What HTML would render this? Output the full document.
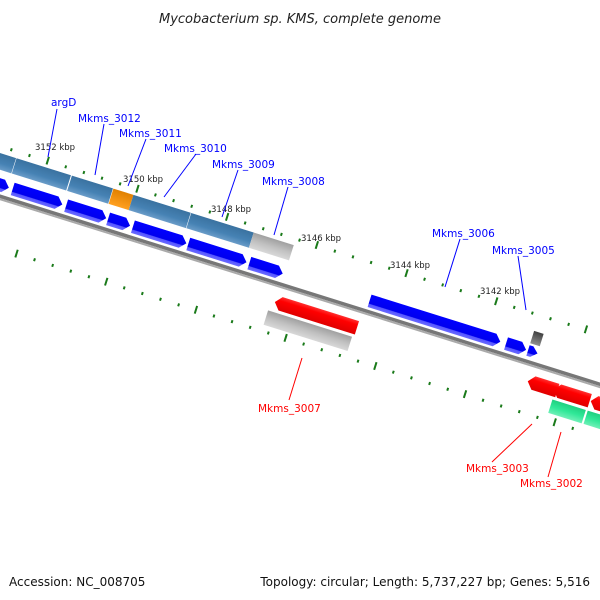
<!DOCTYPE html>
<html><head><meta charset="utf-8"><style>
body{margin:0;background:#fff}
svg{display:block}
text{font-family:"DejaVu Sans","Liberation Sans",sans-serif}
</style></head><body>
<svg width="600" height="600" viewBox="0 0 600 600" xmlns="http://www.w3.org/2000/svg">
<defs>
<linearGradient id="gb" x1="0" y1="0" x2="0" y2="1"><stop offset="0" stop-color="#0000ff"/><stop offset="0.7" stop-color="#0000ee"/><stop offset="0.75" stop-color="#5555ff"/><stop offset="1" stop-color="#6a6aff"/></linearGradient>
<linearGradient id="gs" x1="0" y1="0" x2="0" y2="1"><stop offset="0" stop-color="#3a72a0"/><stop offset="0.6" stop-color="#4682b4"/><stop offset="1" stop-color="#6a9cc8"/></linearGradient>
<linearGradient id="go" x1="0" y1="0" x2="0" y2="1"><stop offset="0" stop-color="#e08000"/><stop offset="1" stop-color="#ffa020"/></linearGradient>
<linearGradient id="gg" x1="0" y1="0" x2="0" y2="1"><stop offset="0" stop-color="#a0a0a0"/><stop offset="0.5" stop-color="#c0c0c0"/><stop offset="1" stop-color="#d8d8d8"/></linearGradient>
<linearGradient id="gr" x1="0" y1="0" x2="0" y2="1"><stop offset="0" stop-color="#ff3030"/><stop offset="0.3" stop-color="#ff0000"/><stop offset="1" stop-color="#e00000"/></linearGradient>
<linearGradient id="gn" x1="0" y1="0" x2="0" y2="1"><stop offset="0" stop-color="#20d080"/><stop offset="0.5" stop-color="#30e898"/><stop offset="1" stop-color="#70f0b8"/></linearGradient>
<linearGradient id="gk" x1="0" y1="0" x2="0" y2="1"><stop offset="0" stop-color="#404040"/><stop offset="1" stop-color="#909090"/></linearGradient>
</defs>
<text x="300" y="23" font-size="13" font-style="italic" text-anchor="middle" fill="#222">Mycobacterium sp. KMS, complete genome</text>

<g transform="translate(0,196) rotate(17.4)">
  <!-- backbone -->
  <rect x="-40" y="-1.5" width="720" height="3.5" fill="#777"/>
  <rect x="-40" y="2" width="720" height="2" fill="#aaa"/>
  <!-- steel track -->
  <rect x="-40" y="-41" width="44" height="16" fill="url(#gs)"/>
  <rect x="4.5" y="-41" width="57" height="16" fill="url(#gs)"/>
  <rect x="62.5" y="-41" width="43" height="16" fill="url(#gs)"/>
  <rect x="106" y="-41" width="21" height="16" fill="url(#go)"/>
  <rect x="127" y="-41" width="60" height="16" fill="url(#gs)"/>
  <rect x="187.5" y="-41" width="65.5" height="16" fill="url(#gs)"/>
  <rect x="253" y="-41" width="42" height="16" fill="url(#gg)"/>
  <rect x="550" y="-31" width="10" height="13" fill="url(#gk)"/>
  <!-- forward genes -->
  <g fill="url(#gb)">
    <polygon points="-40,-17 0,-17 6,-10.5 0,-4 -40,-4"/>
    <polygon points="10,-17 56,-17 62,-10.5 56,-4 10,-4"/>
    <polygon points="66,-17 102,-17 108,-10.5 102,-4 66,-4"/>
    <polygon points="110,-17 127,-17 133,-10.5 127,-4 110,-4"/>
    <polygon points="136,-17 186,-17 192,-10.5 186,-4 136,-4"/>
    <polygon points="194,-17 249,-17 255,-10.5 249,-4 194,-4"/>
    <polygon points="258,-17 287,-17 293,-10.5 287,-4 258,-4"/>
    <polygon points="384,-17 515,-17 521,-10.5 515,-4 384,-4"/>
    <polygon points="527,-17 542,-17 548,-10.5 542,-4 527,-4"/>
    <polygon points="550,-16 554,-16 560,-10.5 554,-5 550,-5"/>
  </g>
  <!-- reverse genes -->
  <g fill="url(#gr)">
    <polygon points="300,12 380,12 380,26 300,26 294,19"/>
    <polygon points="565,12 590,12 590,26 565,26 559,19"/>
    <polygon points="592,12 624,12 624,26 592,26 586,19"/>
    <polygon points="631,12 660,12 660,26 631,26 625,19"/>
  </g>
  <rect x="290" y="29" width="88" height="15" fill="url(#gg)"/>
  <rect x="588" y="29" width="35" height="14" fill="url(#gn)"/>
  <rect x="625" y="29" width="35" height="14" fill="url(#gn)"/>
  <!-- ticks -->
  <g fill="#1a7a1a">
    <g id="tk">
      <rect x="34" y="-52" width="2" height="8"/>
      <rect x="53" y="-49" width="2" height="3"/><rect x="72" y="-49" width="2" height="3"/><rect x="91" y="-49" width="2" height="3"/><rect x="110" y="-49" width="2" height="3"/>
      <rect x="128" y="-52" width="2" height="8"/>
      <rect x="147" y="-49" width="2" height="3"/><rect x="166" y="-49" width="2" height="3"/><rect x="185" y="-49" width="2" height="3"/><rect x="204" y="-49" width="2" height="3"/>
      <rect x="222" y="-52" width="2" height="8"/>
      <rect x="241" y="-49" width="2" height="3"/><rect x="260" y="-49" width="2" height="3"/><rect x="279" y="-49" width="2" height="3"/><rect x="298" y="-49" width="2" height="3"/>
      <rect x="316" y="-52" width="2" height="8"/>
      <rect x="335" y="-49" width="2" height="3"/><rect x="354" y="-49" width="2" height="3"/><rect x="373" y="-49" width="2" height="3"/><rect x="392" y="-49" width="2" height="3"/>
      <rect x="410" y="-52" width="2" height="8"/>
      <rect x="429" y="-49" width="2" height="3"/><rect x="448" y="-49" width="2" height="3"/><rect x="467" y="-49" width="2" height="3"/><rect x="486" y="-49" width="2" height="3"/>
      <rect x="504" y="-52" width="2" height="8"/>
      <rect x="523" y="-49" width="2" height="3"/><rect x="542" y="-49" width="2" height="3"/><rect x="561" y="-49" width="2" height="3"/><rect x="580" y="-49" width="2" height="3"/>
      <rect x="598" y="-52" width="2" height="8"/>
      <rect x="617" y="-49" width="2" height="3"/><rect x="15" y="-49" width="2" height="3"/><rect x="-4" y="-49" width="2" height="3"/>
    </g>
    <use href="#tk" transform="translate(-2,98)"/>
  </g>
</g>

<g font-size="8.5" fill="#222">
  <text x="35" y="150">3152 kbp</text>
  <text x="123" y="182">3150 kbp</text>
  <text x="211" y="212">3148 kbp</text>
  <text x="301" y="241">3146 kbp</text>
  <text x="390" y="268">3144 kbp</text>
  <text x="480" y="294">3142 kbp</text>
</g>
<g stroke="#00f" stroke-width="1">
  <line x1="57" y1="109" x2="48" y2="157"/>
  <line x1="104" y1="124" x2="95" y2="175"/>
  <line x1="146" y1="139" x2="128" y2="186"/>
  <line x1="196" y1="154" x2="164" y2="197"/>
  <line x1="238" y1="170" x2="222" y2="217"/>
  <line x1="288" y1="187" x2="274" y2="235"/>
  <line x1="460" y1="239" x2="445" y2="287"/>
  <line x1="518" y1="256" x2="526" y2="310"/>
</g>
<g stroke="#f00" stroke-width="1">
  <line x1="302" y1="358" x2="289" y2="400"/>
  <line x1="532" y1="424" x2="492" y2="462"/>
  <line x1="561" y1="432" x2="548" y2="477"/>
</g>
<g font-size="10.5" fill="#00f">
  <text x="51" y="106">argD</text>
  <text x="78" y="122">Mkms_3012</text>
  <text x="119" y="137">Mkms_3011</text>
  <text x="164" y="152">Mkms_3010</text>
  <text x="212" y="168">Mkms_3009</text>
  <text x="262" y="185">Mkms_3008</text>
  <text x="432" y="237">Mkms_3006</text>
  <text x="492" y="254">Mkms_3005</text>
</g>
<g font-size="10.5" fill="#f00">
  <text x="258" y="412">Mkms_3007</text>
  <text x="466" y="472">Mkms_3003</text>
  <text x="520" y="487">Mkms_3002</text>
</g>
<text x="9" y="586" font-size="12" fill="#111">Accession: NC_008705</text>
<text x="590" y="586" font-size="12" fill="#111" text-anchor="end">Topology: circular; Length: 5,737,227 bp; Genes: 5,516</text>
</svg>
</body></html>
